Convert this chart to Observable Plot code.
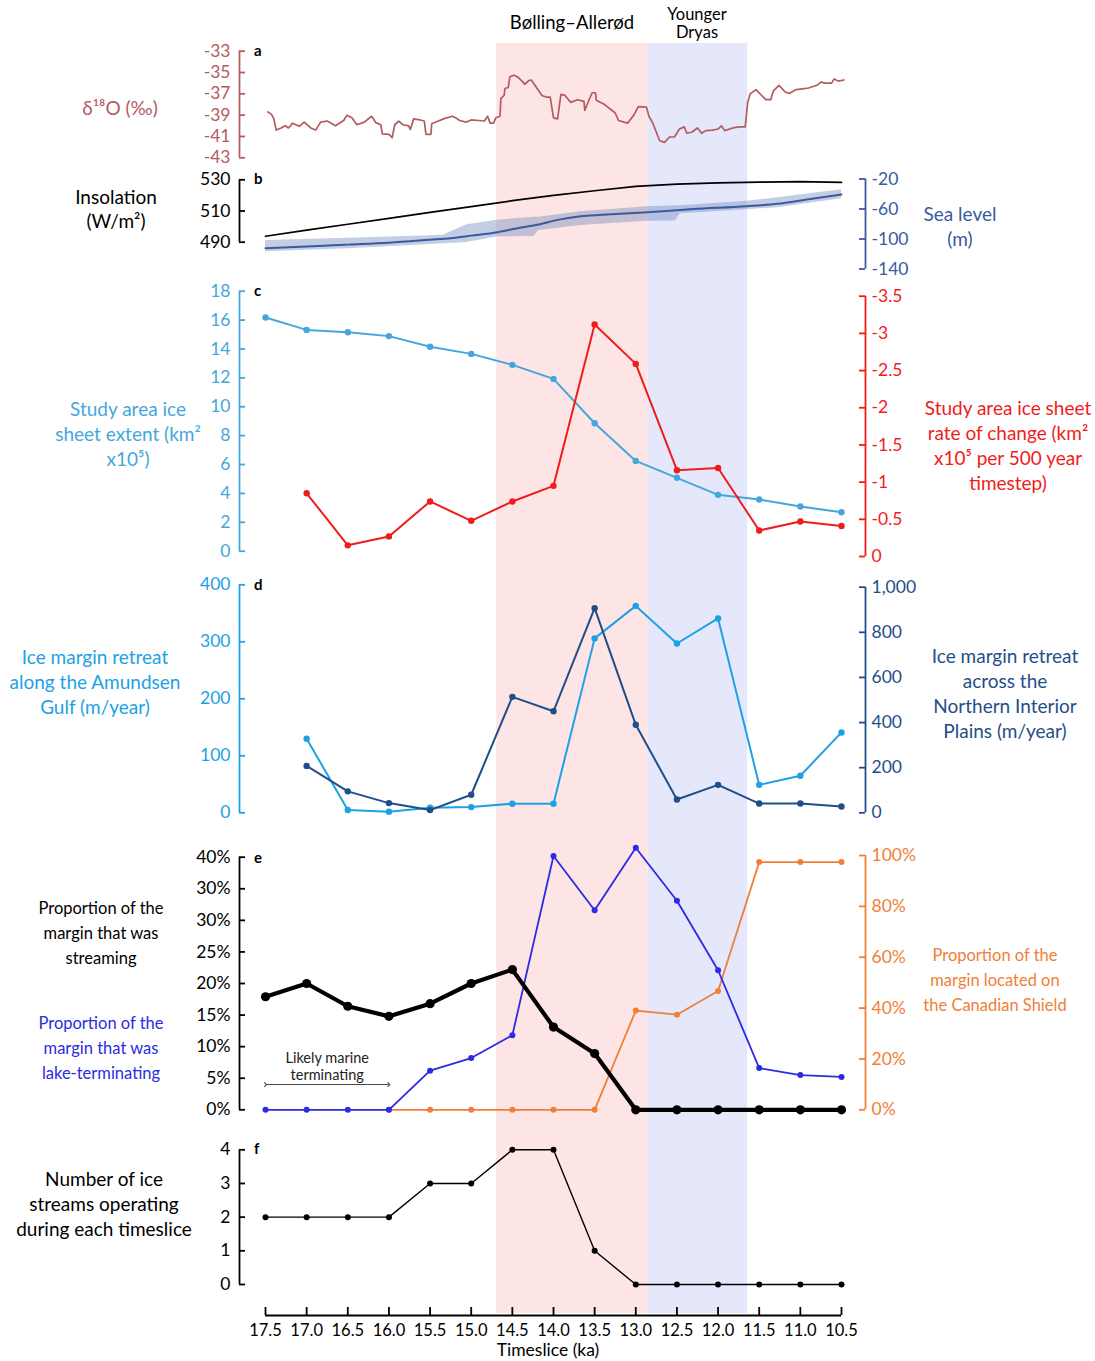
<!DOCTYPE html>
<html><head><meta charset="utf-8">
<script src="https://cdn.jsdelivr.net/npm/d3@7"></script>
<script src="https://cdn.jsdelivr.net/npm/@observablehq/plot@0.6"></script>
<style>
body{margin:0;background:#fff;font-family:Lato,"Open Sans",sans-serif;}
#chart{position:relative;width:1095px;height:1361px;overflow:hidden;background:#fff;}
#chart svg{position:absolute;left:0;top:0;}
.lbl{position:absolute;transform:translate(-50%,-50%);text-align:center;white-space:nowrap;font-size:19px;line-height:25px;}
.let{position:absolute;transform:translate(0,-50%);font-weight:bold;font-size:15px;}
</style></head><body><div id="chart"></div>
<script>
// ---------- DATA ----------
const timeslices = [17.5,17.0,16.5,16.0,15.5,15.0,14.5,14.0,13.5,13.0,12.5,12.0,11.5,11.0,10.5];
const periodNames = ["Bølling–Allerød","Younger Dryas"];
const periodStart = [14.69, 12.85];
const periodEnd = [12.85, 11.64];

// (a) δ18O
const d18oAge = [17.47,17.43,17.40,17.37,17.31,17.26,17.22,17.17,17.09,17.03,16.95,16.89,16.83,16.75,16.65,16.55,16.51,16.45,16.39,16.30,16.21,16.16,16.10,16.08,16.00,15.96,15.93,15.88,15.83,15.76,15.74,15.70,15.62,15.57,15.55,15.49,15.48,15.40,15.32,15.23,15.19,15.14,15.06,15.00,14.91,14.84,14.80,14.77,14.73,14.70,14.65,14.64,14.60,14.59,14.55,14.53,14.48,14.43,14.37,14.35,14.30,14.27,14.14,14.09,14.04,14.00,13.95,13.91,13.86,13.79,13.71,13.63,13.62,13.57,13.53,13.49,13.48,13.39,13.34,13.25,13.21,13.10,13.02,12.97,12.87,12.84,12.79,12.71,12.65,12.59,12.53,12.47,12.41,12.38,12.32,12.25,12.20,12.15,12.07,12.00,11.96,11.92,11.82,11.74,11.67,11.64,11.61,11.54,11.42,11.36,11.33,11.26,11.18,11.13,11.05,11.00,10.90,10.80,10.75,10.70,10.62,10.59,10.54,10.47];
const d18oValue = [-38.7,-38.9,-39.3,-40.4,-40.2,-40.0,-40.2,-39.75,-40.05,-39.65,-40.2,-40.4,-39.65,-39.55,-40.0,-39.5,-39.0,-39.25,-39.9,-39.65,-39.1,-39.7,-39.9,-40.75,-40.8,-41.1,-39.9,-39.55,-39.9,-40.0,-40.35,-39.35,-39.45,-39.55,-40.8,-40.8,-39.8,-39.55,-39.3,-39.1,-39.25,-39.5,-39.65,-39.45,-39.5,-39.55,-39.1,-39.75,-39.75,-39.25,-39.1,-37.45,-37.15,-36.5,-36.4,-35.4,-35.25,-35.45,-35.9,-36.1,-35.75,-35.7,-37.15,-37.3,-37.3,-39.25,-39.35,-37.05,-37.15,-37.8,-37.55,-37.7,-38.55,-37.6,-36.9,-36.9,-37.6,-37.95,-38.25,-38.8,-39.5,-39.75,-38.95,-38.2,-38.25,-39.1,-39.8,-41.4,-41.55,-41.05,-41.05,-40.3,-40.1,-40.7,-40.6,-40.2,-40.7,-40.45,-40.4,-40.3,-40.0,-40.45,-40.2,-40.1,-40.1,-37.8,-37.0,-36.6,-37.55,-37.55,-36.75,-36.2,-36.85,-36.95,-36.6,-36.55,-36.45,-36.2,-35.9,-36.0,-36.0,-35.6,-35.8,-35.7];
const d18oTicks = [-33,-35,-37,-39,-41,-43];

// (b) insolation & sea level
const insolation = [493.8,497.7,501.5,505.3,509.1,512.8,516.6,520.0,523.0,525.8,527.2,528.0,528.5,528.8,528.3];
const insolTicks = [530,510,490];
const seaAge = [17.5,17.0,16.5,16.0,15.5,15.25,15.0,14.68,14.45,14.2,13.95,13.67,13.3,12.86,12.3,11.65,11.28,10.9,10.5];
const seaLevel = [-112.3,-110,-107.5,-105,-101,-98.9,-95.5,-90.9,-86,-81.1,-74.5,-69.8,-67,-64.3,-60,-56.3,-53.1,-47,-40.7];
const bandAge = [17.5,16.5,15.6,15.34,15.2,15.05,14.68,14.24,14.18,13.67,12.86,12.52,12.46,11.65,11.28,10.5];
const bandUpper = [-102,-99,-96,-95,-88,-81,-75,-71,-71,-63.5,-57,-55.5,-55.5,-49.6,-45,-34.4];
const bandLower = [-117,-113,-108,-106.4,-105.5,-104.5,-97,-96.7,-88.7,-82,-76.3,-76,-66.4,-61,-58.4,-46.4];
const seaTicks = [-20,-60,-100,-140];

// (c) ice sheet extent and rate of change
const iceExtent = [16.18,15.32,15.16,14.89,14.15,13.66,12.9,11.93,8.86,6.25,5.08,3.9,3.58,3.09,2.7];
const iceRate = [null,-0.85,-0.15,-0.27,-0.74,-0.48,-0.74,-0.95,-3.12,-2.59,-1.16,-1.19,-0.35,-0.47,-0.41];
const extentTicks = [0,2,4,6,8,10,12,14,16,18];
const rateTicks = [0,-0.5,-1,-1.5,-2,-2.5,-3,-3.5];

// (d) ice margin retreat
const amundsen = [null,130,5,2,9,10,16,16,306,363,297,341,49,65,141];
const interiorPlains = [null,208,95,43,12,80,514,450,907,390,59,124,41,41,28];
const amundsenTicks = [0,100,200,300,400];
const plainsTicks = [0,200,400,600,800,1000];

// (e) margin proportions (%)
const streaming = [17.9,20.0,16.4,14.8,16.8,20.0,22.2,13.1,8.9,0,0,0,0,0,0];
const lakeTerminating = [0,0,0,0,6.2,8.2,11.8,40.2,31.6,41.5,33.1,22.1,6.6,5.5,5.2];
const canadianShield = [null,null,null,0,0,0,0,0,0,39,37.4,46.7,97.4,97.4,97.4];
const propTicks = [0,5,10,15,20,25,30,35,40];
const propTickLabels = ["0%","5%","10%","15%","20%","25%","30%","30%","40%"];
const shieldTicks = [0,20,40,60,80,100];
const marineSpanStart = [17.5], marineSpanEnd = [16.0], marineSpanLevel = [4];
const marineText = ["Likely marine\nterminating"];

// (f) ice streams
const iceStreams = [2,2,2,2,3,3,4,4,1,0,0,0,0,0,0];
const streamTicks = [0,1,2,3,4];

// ---------- LAYOUT ----------
const W = 1095, H = 1361, ML = 265, MR = 254;
const X_DOMAIN = [17.5, 10.5];
const LDX = -26, RDX = 24;
const FONT = "Lato, 'Open Sans', sans-serif";
const root = document.getElementById("chart");

function plot(top, bottom, yDomain, marks, extra = {}) {
  const p = Plot.plot({
    width: W, height: H, marginLeft: ML, marginRight: MR,
    marginTop: top, marginBottom: H - bottom,
    x: {domain: X_DOMAIN, axis: null},
    y: yDomain ? {domain: yDomain, label: null, ...(extra.yAxisNull ? {axis: null} : {})} : undefined,
    style: {background: "transparent", fontFamily: FONT, fontSize: "17px", overflow: "visible", maxWidth: "none"},
    marks
  });
  root.appendChild(p);
  return p;
}
function leftAxis(ticks, color, fmt = d => String(d)) {
  return [
    Plot.ruleX([X_DOMAIN[0]], {stroke: color, strokeWidth: 1.8, dx: LDX}),
    Plot.ruleY(ticks, {y: d => d, x1: () => X_DOMAIN[0], x2: () => X_DOMAIN[0], insetRight: -6, stroke: color, strokeWidth: 1.8, dx: LDX}),
    Plot.axisY({anchor: "left", ticks, tickFormat: fmt, tickSize: 0, tickPadding: 9, dx: LDX, color, label: null, fontSize: 17.5})
  ];
}
function rightAxis(ticks, color, fmt = d => String(d)) {
  return [
    Plot.ruleX([X_DOMAIN[1]], {stroke: color, strokeWidth: 1.8, dx: RDX}),
    Plot.ruleY(ticks, {y: d => d, x1: () => X_DOMAIN[1], x2: () => X_DOMAIN[1], insetLeft: -6, stroke: color, strokeWidth: 1.8, dx: RDX}),
    Plot.axisY({anchor: "right", ticks, tickFormat: fmt, tickSize: 0, tickPadding: 6, dx: RDX, color, label: null, fontSize: 17.5})
  ];
}
function series(values) {
  return timeslices.map((ka, i) => ({ka, v: values[i]})).filter(d => d.v != null);
}

// background period shading
const periods = periodNames.map((name, i) => ({name, start: periodStart[i], end: periodEnd[i]}));
plot(43, 1313, null, [
  Plot.rect(periods, {x1: "start", x2: "end", fill: (d, i) => i === 0 ? "#fde5e5" : "#e5e8fb"})
]);

// (a)
const C_A = "#b35b5e";
const d18o = d18oAge.map((ka, i) => ({ka, v: d18oValue[i]}));
plot(50.7, 157.3, [-43, -33], [
  ...leftAxis(d18oTicks, C_A),
  Plot.line(d18o, {x: "ka", y: "v", stroke: C_A, strokeWidth: 1.7, strokeLinejoin: "round"})
]);

// (b) insolation (left) and sea level (right)
plot(179.3, 241.7, [490, 530], [
  ...leftAxis(insolTicks, "#000"),
  Plot.line(series(insolation), {x: "ka", y: "v", stroke: "#000", strokeWidth: 1.7})
]);
const C_SEA = "#3b5a9e";
const band = bandAge.map((ka, i) => ({ka, lo: bandLower[i], hi: bandUpper[i]}));
const sea = seaAge.map((ka, i) => ({ka, v: seaLevel[i]}));
plot(178.5, 268.5, [-140, -20], [
  ...rightAxis(seaTicks, C_SEA),
  Plot.areaY(band, {x: "ka", y1: "lo", y2: "hi", fill: "#6f88bd", fillOpacity: 0.42}),
  Plot.line(sea, {x: "ka", y: "v", stroke: C_SEA, strokeWidth: 2, curve: "monotone-x"})
]);

// (c)
const C_EXT = "#46a6dc", C_RATE = "#f01c1c";
plot(290.7, 550.7, [0, 18], [
  ...leftAxis(extentTicks, C_EXT),
  Plot.line(series(iceExtent), {x: "ka", y: "v", stroke: C_EXT, strokeWidth: 2}),
  Plot.dot(series(iceExtent), {x: "ka", y: "v", fill: C_EXT, r: 3.2})
]);
plot(295.7, 556, [0, -3.5], [
  ...rightAxis(rateTicks, C_RATE),
  Plot.line(series(iceRate), {x: "ka", y: "v", stroke: C_RATE, strokeWidth: 2}),
  Plot.dot(series(iceRate), {x: "ka", y: "v", fill: C_RATE, r: 3.2})
]);

// (d)
const C_AMU = "#1ea1e3", C_PLA = "#1f4e89";
plot(584.3, 812.3, [0, 400], [
  ...leftAxis(amundsenTicks, C_AMU),
  Plot.line(series(amundsen), {x: "ka", y: "v", stroke: C_AMU, strokeWidth: 2}),
  Plot.dot(series(amundsen), {x: "ka", y: "v", fill: C_AMU, r: 3.2})
]);
plot(586.7, 812.3, [0, 1000], [
  ...rightAxis(plainsTicks, C_PLA, d3.format(",")),
  Plot.line(series(interiorPlains), {x: "ka", y: "v", stroke: C_PLA, strokeWidth: 2}),
  Plot.dot(series(interiorPlains), {x: "ka", y: "v", fill: C_PLA, r: 3.2})
]);

// (e) right (orange) first so left series draw on top
const C_SH = "#f08038", C_LAKE = "#2b2be3";
plot(855, 1109.3, [0, 100], [
  ...rightAxis(shieldTicks, C_SH, d => d + "%"),
  Plot.line(series(canadianShield), {x: "ka", y: "v", stroke: C_SH, strokeWidth: 1.8}),
  Plot.dot(series(canadianShield), {x: "ka", y: "v", fill: C_SH, r: 3})
]);
const marine = marineSpanStart.map((s, i) => ({x1: s, x2: marineSpanEnd[i], y: marineSpanLevel[i], text: marineText[i]}));
plot(856.7, 1109.3, [0, 40], [
  ...leftAxis(propTicks, "#000", d => propTickLabels[propTicks.indexOf(d)]),
  Plot.line(series(lakeTerminating), {x: "ka", y: "v", stroke: C_LAKE, strokeWidth: 1.8}),
  Plot.dot(series(lakeTerminating), {x: "ka", y: "v", fill: C_LAKE, r: 3}),
  Plot.line(series(streaming), {x: "ka", y: "v", stroke: "#000", strokeWidth: 4.2, strokeLinejoin: "round"}),
  Plot.dot(series(streaming), {x: "ka", y: "v", fill: "#000", r: 4.6}),
  Plot.link(marine, {x1: "x1", x2: "x2", y1: "y", y2: "y", stroke: "#444", strokeWidth: 1, markerStart: "arrow", markerEnd: "arrow"}),
  Plot.text(marine, {x: d => (d.x1 + d.x2) / 2, y: "y", text: "text", fontSize: 14.5, lineHeight: 1.12, lineAnchor: "bottom", dy: -5, fill: "#222"})
]);

// (f)
plot(1149.3, 1284, [0, 4], [
  ...leftAxis(streamTicks, "#000"),
  Plot.line(series(iceStreams), {x: "ka", y: "v", stroke: "#000", strokeWidth: 1.4}),
  Plot.dot(series(iceStreams), {x: "ka", y: "v", fill: "#000", r: 3})
]);

// x axis
plot(1307, 1315, [0, 1], [
  Plot.ruleY([0], {x1: () => X_DOMAIN[0], x2: () => X_DOMAIN[1], stroke: "#000", strokeWidth: 1.8}),
  Plot.ruleX(timeslices, {stroke: "#000", strokeWidth: 1.8}),
  Plot.axisX({anchor: "bottom", ticks: timeslices, tickFormat: d3.format(".1f"), tickSize: 0, tickPadding: 9, fontSize: 16.5, label: null})
], {yAxisNull: true});

// ---------- TEXT LABELS ----------
const labels = [
  {t: ["Bølling–Allerød"], x: 572, y: 22, c: "#000", fs: 18.5},
  {t: ["Younger"], x: 697, y: 14, c: "#000", lh: 17, fs: 16.5},
  {t: ["Dryas"], x: 697, y: 32, c: "#000", lh: 17, fs: 16.5},
  {t: ["δ¹⁸O (‰)"], x: 120, y: 107, c: C_A},
  {t: ["Insolation", "(W/m²)"], x: 116, y: 209, c: "#000", lh: 24},
  {t: ["Sea level", "(m)"], x: 960, y: 226, c: C_SEA},
  {t: ["Study area ice", "sheet extent (km²", "x10⁵)"], x: 128, y: 433, c: C_EXT},
  {t: ["Study area ice sheet", "rate of change (km²", "x10⁵ per 500 year", "timestep)"], x: 1008, y: 445, c: C_RATE},
  {t: ["Ice margin retreat", "along the Amundsen", "Gulf (m/year)"], x: 95, y: 681, c: C_AMU},
  {t: ["Ice margin retreat", "across the", "Northern Interior", "Plains (m/year)"], x: 1005, y: 693, c: C_PLA},
  {t: ["Proportion of the", "margin that was", "streaming"], x: 101, y: 933, c: "#000", fs: 16.5},
  {t: ["Proportion of the", "margin that was", "lake-terminating"], x: 101, y: 1048, c: C_LAKE, fs: 16.5},
  {t: ["Proportion of the", "margin located on", "the Canadian Shield"], x: 995, y: 980, c: C_SH, fs: 16.5},
  {t: ["Number of ice", "streams operating", "during each timeslice"], x: 104, y: 1203, c: "#000"},
  {t: ["Timeslice (ka)"], x: 548, y: 1350, c: "#000", fs: 17.5, lh: 18}
];
for (const l of labels) {
  const d = document.createElement("div");
  d.className = "lbl";
  d.style.left = l.x + "px"; d.style.top = l.y + "px"; d.style.color = l.c;
  if (l.lh) d.style.lineHeight = l.lh + "px";
  if (l.fs) d.style.fontSize = l.fs + "px";
  d.innerHTML = l.t.join("<br>");
  root.appendChild(d);
}
const letters = [["a", 50], ["b", 178], ["c", 290], ["d", 584], ["e", 857], ["f", 1148]];
for (const [t, y] of letters) {
  const d = document.createElement("div");
  d.className = "let"; d.textContent = t;
  d.style.left = "254px"; d.style.top = y + "px";
  root.appendChild(d);
}
</script></body></html>
